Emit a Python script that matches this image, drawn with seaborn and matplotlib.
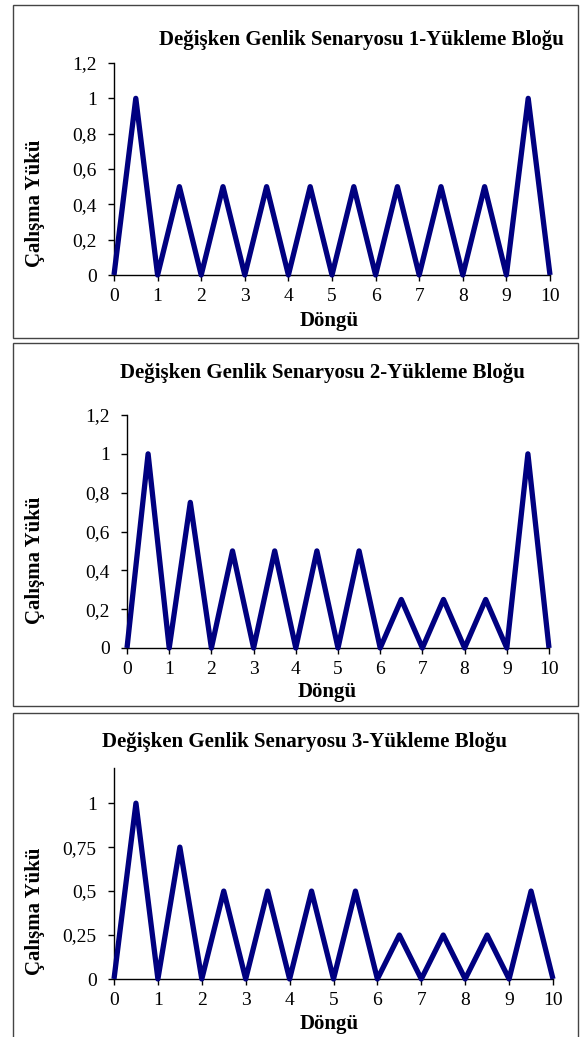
import numpy as np
import pandas as pd
import seaborn as sns
import matplotlib
matplotlib.use("Agg")
import matplotlib.pyplot as plt
from matplotlib.patches import Rectangle

sns.set_theme(style="white")
plt.rcParams['font.family'] = ['Liberation Serif', 'DejaVu Serif']
plt.rcParams['text.color'] = 'black'

cycle = [0, 0.5, 1, 1.5, 2, 2.5, 3, 3.5, 4, 4.5, 5, 5.5, 6, 6.5, 7, 7.5, 8, 8.5, 9, 9.5, 10]
load1 = [0, 1, 0, 0.5, 0, 0.5, 0, 0.5, 0, 0.5, 0, 0.5, 0, 0.5, 0, 0.5, 0, 0.5, 0, 1, 0]
load2 = [0, 1, 0, 0.75, 0, 0.5, 0, 0.5, 0, 0.5, 0, 0.5, 0, 0.25, 0, 0.25, 0, 0.25, 0, 1, 0]
load3 = [0, 1, 0, 0.75, 0, 0.5, 0, 0.5, 0, 0.5, 0, 0.5, 0, 0.25, 0, 0.25, 0, 0.25, 0, 0.5, 0]
titles = ["Değişken Genlik Senaryosu 1-Yükleme Bloğu",
          "Değişken Genlik Senaryosu 2-Yükleme Bloğu",
          "Değişken Genlik Senaryosu 3-Yükleme Bloğu"]
yticks_a = [0, 0.2, 0.4, 0.6, 0.8, 1, 1.2]
ylabels_a = ["0", "0,2", "0,4", "0,6", "0,8", "1", "1,2"]
yticks_b = [0, 0.25, 0.5, 0.75, 1]
ylabels_b = ["0", "0,25", "0,5", "0,75", "1"]
xticks = list(range(0, 11))

W, H = 580, 1037
fig = plt.figure(figsize=(W / 100, H / 100), dpi=100)

def fx(px):
    return px / W

def fy(py):
    return 1 - py / H

panels = [
    dict(load=load1, ax=(114, 550, 63, 275), box=(13, 578, 5, 338), title=(361, 40),
         ylab=(35, 203), xlab=(329, 321), yt=yticks_a, yl=ylabels_a),
    dict(load=load2, ax=(127, 549, 415, 648), box=(13, 578, 343, 706), title=(322, 373),
         ylab=(35, 560), xlab=(327, 692), yt=yticks_a, yl=ylabels_a),
    dict(load=load3, ax=(114, 553, 768, 979), box=(13, 578, 713, 1040), title=(304, 742),
         ylab=(35, 911), xlab=(329, 1024), yt=yticks_b, yl=ylabels_b),
]

for i, p in enumerate(panels):
    x0, x1, y0, y1 = p["box"]
    fig.patches.append(Rectangle((fx(x0), fy(y1)), fx(x1) - fx(x0), fy(y0) - fy(y1),
                                 transform=fig.transFigure, fill=False,
                                 edgecolor="#444444", linewidth=1.0))
    l, r, t, b = p["ax"]
    ax = fig.add_axes([fx(l), fy(b), fx(r) - fx(l), fy(t) - fy(b)])
    df = pd.DataFrame({"Döngü": cycle, "Yük": p["load"]})
    sns.lineplot(data=df, x="Döngü", y="Yük", ax=ax, color="#000080", linewidth=3.8,
                 solid_joinstyle="round", solid_capstyle="butt", clip_on=False, zorder=3)
    ax.set_xlim(0, 10)
    ax.set_ylim(0, 1.2)
    ax.set_xticks(xticks)
    ax.set_xticklabels([str(v) for v in xticks])
    ax.set_yticks(p["yt"])
    ax.set_yticklabels(p["yl"])
    ax.set_xlabel("")
    ax.set_ylabel("")
    for s in ["top", "right"]:
        ax.spines[s].set_visible(False)
    for s in ["left", "bottom"]:
        ax.spines[s].set_color("black")
        ax.spines[s].set_linewidth(1.0)
    ax.tick_params(axis="both", which="major", direction="out", length=4.5, width=1,
                   color="black", labelsize=14, labelcolor="black",
                   left=True, bottom=True)
    ax.tick_params(axis="y", pad=8)
    ax.tick_params(axis="x", pad=5)
    ax.set_facecolor("white")
    ax.patch.set_alpha(0)
    fig.text(fx(p["title"][0]), fy(p["title"][1]), titles[i], ha="center", va="center",
             fontsize=15, fontweight="bold", color="black")
    fig.text(fx(p["ylab"][0]), fy(p["ylab"][1]), "Çalışma Yükü", ha="center", va="center",
             rotation=90, fontsize=15, fontweight="bold", color="black")
    fig.text(fx(p["xlab"][0]), fy(p["xlab"][1]), "Döngü", ha="center", va="center",
             fontsize=15, fontweight="bold", color="black")

fig.savefig("out.png", dpi=100, facecolor="white")
